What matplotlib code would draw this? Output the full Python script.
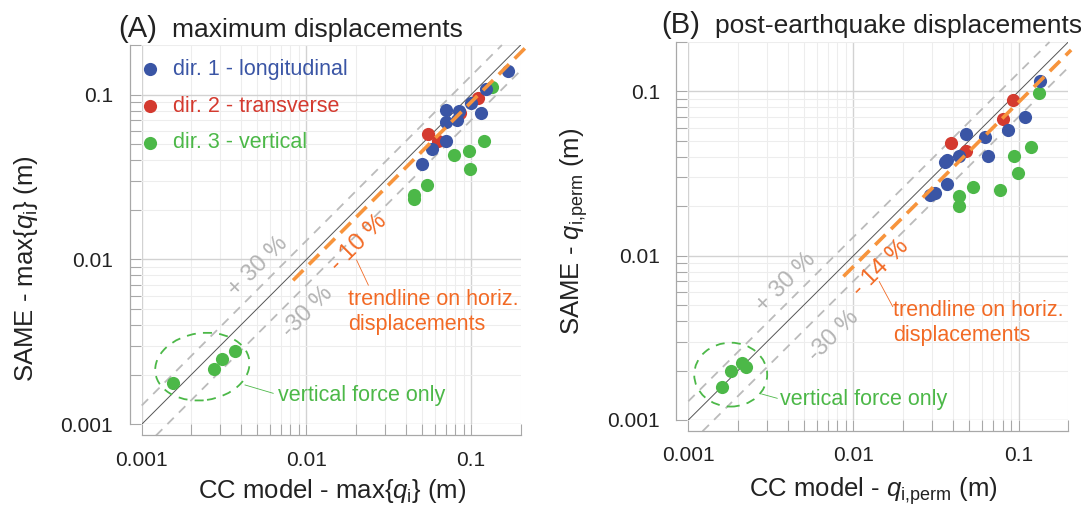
import numpy as np
import matplotlib
matplotlib.use("Agg")
import matplotlib.pyplot as plt
from matplotlib.patches import Ellipse
from matplotlib.ticker import LogLocator, NullFormatter

plt.rcParams["font.family"] = ["Liberation Sans", "DejaVu Sans"]
plt.rcParams["mathtext.fontset"] = "custom"
plt.rcParams["mathtext.rm"] = "Liberation Sans"
plt.rcParams["mathtext.it"] = "Liberation Sans:italic"

# (A) maximum displacements: CC model (x) vs SAME (y), in m
blue_a_x = [0.168, 0.1235, 0.1, 0.115, 0.085, 0.0818, 0.0705, 0.0705, 0.0705, 0.0577, 0.0505]
blue_a_y = [0.139, 0.1075, 0.0886, 0.077, 0.079, 0.0705, 0.081, 0.068, 0.0524, 0.0468, 0.0382]
red_a_x = [0.0546, 0.063, 0.1096, 0.086]
red_a_y = [0.0574, 0.052, 0.0955, 0.0775]
green_a_x = [0.134, 0.119, 0.0977, 0.098, 0.0785, 0.0538, 0.0447, 0.0447,
             0.00154, 0.00275, 0.00308, 0.00367]
green_a_y = [0.112, 0.0525, 0.0455, 0.0356, 0.043, 0.0282, 0.0245, 0.0232,
             0.00179, 0.00217, 0.00249, 0.00278]

# (B) post-earthquake (permanent) displacements
blue_b_x = [0.1355, 0.1094, 0.0863, 0.0625, 0.0482, 0.0649, 0.0433, 0.0368, 0.0359, 0.0368, 0.0313, 0.0292]
blue_b_y = [0.1164, 0.0703, 0.058, 0.053, 0.0552, 0.0404, 0.0404, 0.0384, 0.0372, 0.0274, 0.024, 0.0234]
red_b_x = [0.0389, 0.048, 0.0803, 0.0925]
red_b_y = [0.0484, 0.0436, 0.0684, 0.0881]
green_b_x = [0.1336, 0.1194, 0.0933, 0.099, 0.0767, 0.053, 0.0438, 0.0438,
             0.00161, 0.00181, 0.00211, 0.00223]
green_b_y = [0.0977, 0.0461, 0.0402, 0.0321, 0.0252, 0.0261, 0.0232, 0.0202,
             0.00158, 0.0020, 0.00223, 0.00211]

# trendline factors on horizontal displacements and +/- 30 % band
trend_a = 0.90
trend_b = 0.86
band_hi = 1.3
band_lo = 0.7

axis_lim = (0.001, 0.2)
major_ticks = [0.001, 0.01, 0.1]
tick_labels = ["0.001", "0.01", "0.1"]
legend_labels = ["dir. 1 - longitudinal", "dir. 2 - transverse", "dir. 3 - vertical"]

BLUE = "#3a55a5"
RED = "#d43a2f"
GREEN = "#4cb848"
ORANGE = "#f7943c"
ORANGE_TXT = "#f26a25"
GRAY = "#bbbbbb"
GRAY_TXT = "#b4b4b4"


def setup_axes(ax):
    ax.set_xscale("log")
    ax.set_yscale("log")
    ax.set_xlim(axis_lim)
    ax.set_ylim(axis_lim)
    ax.set_xticks(major_ticks, labels=tick_labels)
    ax.set_yticks(major_ticks, labels=tick_labels)
    for axis in (ax.xaxis, ax.yaxis):
        axis.set_minor_locator(LogLocator(base=10, subs=np.arange(2, 10)))
        axis.set_minor_formatter(NullFormatter())
    ax.grid(True, which="major", color="#d2d2d2", lw=1.0)
    ax.grid(True, which="minor", color="#ededed", lw=0.8)
    ax.set_axisbelow(True)
    ax.spines["top"].set_visible(False)
    ax.spines["right"].set_visible(False)
    ax.spines["left"].set_position(("outward", 8.5))
    ax.spines["bottom"].set_position(("outward", 8))
    for s in ("left", "bottom"):
        ax.spines[s].set_color("#a8a8a8")
        ax.spines[s].set_linewidth(0.9)
    ax.tick_params(which="both", direction="in", length=8, width=0.8,
                   color="#a8a8a8", labelsize=15, labelcolor="#222222")
    ax.tick_params(axis="y", pad=12)
    ax.tick_params(axis="x", pad=11)


def draw_panel(ax, bx, by, rx, ry, gx, gy, trend, trend_start, trend_end):
    lo, hi = axis_lim
    # 1:1 line and +/- 30 % band
    ax.plot([lo, hi], [lo, hi], color="#555555", lw=0.7, zorder=2)
    ax.plot([lo, hi / band_hi], [lo * band_hi, hi], color=GRAY, lw=1.3,
            dashes=(5, 4), zorder=2, clip_on=False)
    ax.plot([lo * 1.22, hi], [lo * 1.22 * band_lo, hi * band_lo], color=GRAY, lw=1.3,
            dashes=(5, 4), zorder=2, clip_on=False)
    # points
    ax.scatter(gx, gy, s=90, color=GREEN, lw=0, zorder=3)
    ax.scatter(rx, ry, s=90, color=RED, lw=0, zorder=3)
    ax.scatter(bx, by, s=90, color=BLUE, lw=0, zorder=3)
    # trendline
    ax.plot([trend_start, trend_end], [trend_start * trend, trend_end * trend],
            color=ORANGE, lw=2.6, dashes=(4, 2.2), solid_capstyle="butt",
            zorder=4, clip_on=False)


fig = plt.figure(figsize=(10.81, 5.13), dpi=100)
ax1 = fig.add_axes([141.7 / 1081, 1 - 424.3 / 513, 379 / 1081, 379.3 / 513])
ax2 = fig.add_axes([688.3 / 1081, 1 - 420 / 513, 380 / 1081, 378 / 513])

for ax in (ax1, ax2):
    setup_axes(ax)

draw_panel(ax1, blue_a_x, blue_a_y, red_a_x, red_a_y, green_a_x, green_a_y, trend_a, 0.0083, 0.215)
draw_panel(ax2, blue_b_x, blue_b_y, red_b_x, red_b_y, green_b_x, green_b_y, trend_b, 0.0087, 0.208)

# legend (panel A only)
for i, (lab, col) in enumerate(zip(legend_labels, [BLUE, RED, GREEN])):
    yy = 0.936 - i * 0.097
    ax1.scatter([0.022], [yy], s=90, color=col, lw=0, transform=ax1.transAxes, clip_on=False, zorder=5)
    ax1.text(0.083, yy, lab, color=col, fontsize=15.5, va="center", ha="left", transform=ax1.transAxes)

# annotations, panel A
ta = ax1.transAxes
ax1.text(0.308, 0.4155, "+ 30 %", color=GRAY_TXT, fontsize=17, rotation=45,
         ha="center", va="center", rotation_mode="anchor", transform=ta)
ax1.text(0.437, 0.297, "-30 %", color=GRAY_TXT, fontsize=17, rotation=45,
         ha="center", va="center", rotation_mode="anchor", transform=ta)
ax1.text(0.5715, 0.477, "- 10 %", color=ORANGE_TXT, fontsize=17.5, rotation=45,
         ha="center", va="center", rotation_mode="anchor", transform=ta)
ax1.plot([0.567, 0.598], [0.433, 0.367], color=ORANGE_TXT, lw=0.6, transform=ta)
ax1.text(0.545, 0.295, "trendline on horiz.\ndisplacements", color=ORANGE_TXT,
         fontsize=15.5, ha="left", va="center", linespacing=1.25, transform=ta)
ax1.add_patch(Ellipse((0.16, 0.152), 0.25, 0.177, angle=8, fill=False, edgecolor=GREEN,
                      lw=1.3, ls=(0, (5, 4)), transform=ta, zorder=3))
ax1.plot([0.2726, 0.347], [0.1037, 0.0817], color=GREEN, lw=0.6, transform=ta)
ax1.text(0.36, 0.077, "vertical force only", color=GREEN, fontsize=15.5,
         ha="left", va="center", transform=ta)

# annotations, panel B
tb = ax2.transAxes
ax2.text(0.257, 0.363, "+ 30 %", color=GRAY_TXT, fontsize=17, rotation=45,
         ha="center", va="center", rotation_mode="anchor", transform=tb)
ax2.text(0.383, 0.223, "-30 %", color=GRAY_TXT, fontsize=17, rotation=45,
         ha="center", va="center", rotation_mode="anchor", transform=tb)
ax2.text(0.506, 0.403, "- 14 %", color=ORANGE_TXT, fontsize=17.5, rotation=45,
         ha="center", va="center", rotation_mode="anchor", transform=tb)
ax2.plot([0.5026, 0.538], [0.366, 0.300], color=ORANGE_TXT, lw=0.6, transform=tb)
ax2.text(0.5395, 0.256, "trendline on horiz.\ndisplacements", color=ORANGE_TXT,
         fontsize=15.5, ha="left", va="center", linespacing=1.25, transform=tb)
ax2.add_patch(Ellipse((0.1116, 0.12), 0.192, 0.169, angle=0, fill=False, edgecolor=GREEN,
                      lw=1.3, ls=(0, (5, 4)), transform=tb, zorder=3))
ax2.plot([0.193, 0.234], [0.0688, 0.0574], color=GREEN, lw=0.6, transform=tb)
ax2.text(0.2413, 0.0548, "vertical force only", color=GREEN, fontsize=15.5,
         ha="left", va="center", transform=tb)

# titles
fig.text(118 / 1081, 1 - 36.7 / 513, "(A)", fontsize=21, color="#222222", va="baseline")
fig.text(171.7 / 1081, 1 - 36.7 / 513, "maximum displacements", fontsize=19, color="#222222", va="baseline")
fig.text(661.7 / 1081, 1 - 33.3 / 513, "(B)", fontsize=21, color="#222222", va="baseline")
fig.text(715 / 1081, 1 - 33.3 / 513, "post-earthquake displacements", fontsize=19, color="#222222", va="baseline")

# axis labels
fig.text(26 / 1081, 1 - 269 / 513, r"SAME - max{$q_\mathrm{i}$} (m)", fontsize=18.5,
         rotation=90, ha="center", va="center", color="#222222")
fig.text(332 / 1081, 1 - 491 / 513, r"CC model - max{$q_\mathrm{i}$} (m)", fontsize=18.5,
         ha="center", va="center", color="#222222")
fig.text(574 / 1081, 1 - 231 / 513, r"SAME - $q_\mathrm{i{,}perm}$ (m)", fontsize=18.5,
         rotation=90, ha="center", va="center", color="#222222")
fig.text(873 / 1081, 1 - 491 / 513, r"CC model - $q_\mathrm{i{,}perm}$ (m)", fontsize=18.5,
         ha="center", va="center", color="#222222")

fig.savefig("out.png", dpi=100)
